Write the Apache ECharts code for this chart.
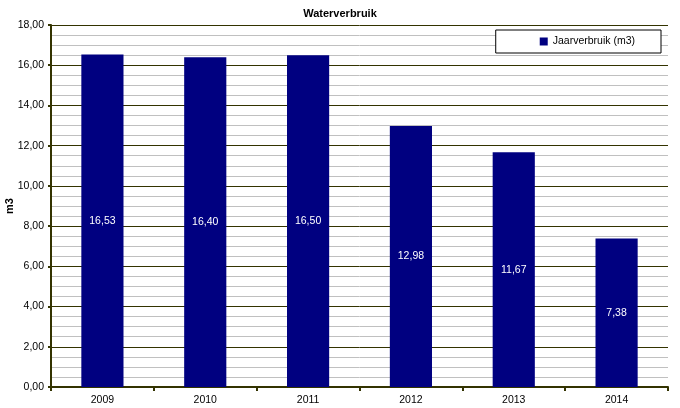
<!DOCTYPE html>
<html><head><meta charset="utf-8">
<script src="https://cdn.jsdelivr.net/npm/echarts@6/dist/echarts.min.js"></script>
<style>html,body{margin:0;padding:0;background:#fff}#c{width:680px;height:408px}</style>
</head><body><div id="c"></div>
<script>
const categories = ['2009','2010','2011','2012','2013','2014'];
const jaarverbruik = [16.53, 16.40, 16.50, 12.98, 11.67, 7.38];
const seriesName = 'Jaarverbruik (m3)';
const fmt = v => v.toFixed(2).replace('.', ',');
const chart = echarts.init(document.getElementById('c'));
const axisCol = '#333300';
const font = 'Liberation Sans';
chart.setOption({
  animation: false,
  title: { text: 'Waterverbruik', left: 'center', top: 3,
    textStyle: { fontFamily: font, fontSize: 11, fontWeight: 'bold', color: '#000' } },
  legend: { right: 19, top: 30, itemWidth: 8, itemHeight: 8, icon: 'rect',
    padding: [6, 26, 6, 44], borderColor: '#000', borderWidth: 1, backgroundColor: '#fff', itemGap: 5,
    textStyle: { fontFamily: font, fontSize: 10.5, color: '#000' } },
  grid: { left: 51, right: 12, top: 25, bottom: 21, outerBoundsMode: 'none', containLabel: false },
  xAxis: { type: 'category', data: categories,
    axisLine: { lineStyle: { color: axisCol, width: 2 } },
    axisTick: { show: true, length: 4, lineStyle: { color: axisCol, width: 2 } },
    axisLabel: { fontFamily: font, fontSize: 10.5, color: '#000', margin: 8 } },
  yAxis: { type: 'value', min: 0, max: 18, interval: 2,
    name: 'm3', nameLocation: 'middle', nameGap: 36, nameRotate: 90, nameMoveOverlap: false,
    nameTextStyle: { fontFamily: font, fontSize: 11, fontWeight: 'bold', color: '#000' },
    axisLine: { show: true, lineStyle: { color: axisCol, width: 2 } },
    axisTick: { show: true, length: 3, lineStyle: { color: axisCol, width: 2 } },
    axisLabel: { fontFamily: font, fontSize: 10.5, color: '#000', margin: 7, formatter: v => fmt(v) },
    splitLine: { lineStyle: { color: axisCol, width: 1 } },
    minorTick: { show: false, splitNumber: 4 },
    minorSplitLine: { show: true, lineStyle: { color: '#c0c0c0', width: 1 } } },
  series: [{ name: seriesName, type: 'bar', data: jaarverbruik, barWidth: '41%',
    itemStyle: { color: '#000080' },
    label: { show: true, position: 'inside', color: '#fff', fontFamily: font, fontSize: 10.5,
      formatter: p => fmt(p.value) } }]
});
</script></body></html>
